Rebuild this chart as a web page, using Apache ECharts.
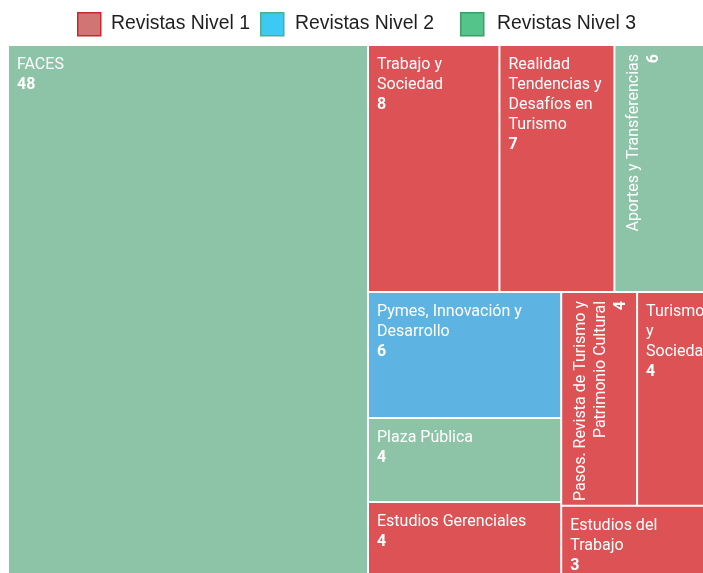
<!DOCTYPE html>
<html>
<head>
<meta charset="utf-8">
<script src="https://cdn.jsdelivr.net/npm/echarts@6/dist/echarts.min.js"></script>
<style>
html,body{margin:0;padding:0;background:#fff;overflow:hidden}
#c{width:703px;height:573px}
</style>
</head>
<body>
<div id="c"></div>
<script>
// ---- data ----
const legendNames = ['Revistas Nivel 1', 'Revistas Nivel 2', 'Revistas Nivel 3'];
const journals = [
  'FACES',
  'Trabajo y Sociedad',
  'Realidad Tendencias y Desafíos en Turismo',
  'Aportes y Transferencias',
  'Pymes, Innovación y Desarrollo',
  'Plaza Pública',
  'Estudios Gerenciales',
  'Pasos. Revista de Turismo y Patrimonio Cultural',
  'Turismo y Sociedad',
  'Estudios del Trabajo'
];
const counts = [48, 8, 7, 6, 6, 4, 4, 4, 4, 3];
const journalLevel = [3, 1, 1, 3, 2, 3, 1, 1, 1, 1];
// label text as wrapped in the reference
const labelText = [
  'FACES',
  'Trabajo y\nSociedad',
  'Realidad\nTendencias y\nDesafíos en\nTurismo',
  'Aportes y Transferencias',
  'Pymes, Innovación y\nDesarrollo',
  'Plaza Pública',
  'Estudios Gerenciales',
  'Pasos. Revista de Turismo y\nPatrimonio Cultural',
  'Turismo\ny\nSociedad',
  'Estudios del\nTrabajo'
];

// ---- styles ----
const cellColors = {1: '#dc5255', 2: '#5db4e3', 3: '#8dc3a7'};
const legendFill = ['#d17474', '#3ccaf5', '#55c48b'];
const legendStroke = ['#c8282d', '#52ad8a', '#3c9e69'];
const verticalLabels = ['Aportes y Transferencias', 'Pasos. Revista de Turismo y Patrimonio Cultural'];
const legendBoxX = [77, 260, 460];
const legendTextX = [111, 295, 497];

const chart = echarts.init(document.getElementById('c'), null, {renderer: 'canvas'});

const data = journals.map((name, i) => {
  const item = {
    name: name,
    value: counts[i],
    itemStyle: {color: cellColors[journalLevel[i]]}
  };
  if (verticalLabels.indexOf(name) >= 0) {
    item.label = {rotate: 90, align: 'right'};
  }
  return item;
});

const graphic = [];
legendNames.forEach((n, i) => {
  graphic.push({
    type: 'rect',
    left: legendBoxX[i], top: 12,
    shape: {width: 23, height: 23},
    style: {fill: legendFill[i], stroke: legendStroke[i], lineWidth: 1.5},
    silent: true
  });
  graphic.push({
    type: 'text',
    x: legendTextX[i], y: 24,
    style: {
      text: n,
      font: '19.4px "Liberation Sans", Arial, sans-serif',
      fill: '#1e1e1e',
      verticalAlign: 'middle'
    },
    silent: true
  });
});

chart.setOption({
  animation: false,
  graphic: graphic,
  series: [{
    type: 'treemap',
    left: 9, top: 46, width: 703, height: 539,
    roam: false,
    nodeClick: false,
    sort: false,
    breadcrumb: {show: false},
    squareRatio: 0.5 * (1 + Math.sqrt(5)),
    itemStyle: {borderWidth: 0, gapWidth: 2, borderColor: '#ffffff'},
    emphasis: {disabled: true},
    label: {
      show: true,
      position: 'insideTopLeft',
      distance: 0,
      padding: [9, 8, 0, 8],
      overflow: 'none',
      color: '#ffffff',
      fontFamily: 'Roboto',
      fontSize: 16,
      lineHeight: 20,
      formatter: function (p) {
        const idx = journals.indexOf(p.name);
        const t = idx >= 0 ? labelText[idx] : p.name;
        return '{n|' + t + '}\n{v|' + p.value + '}';
      },
      rich: {
        n: {fontFamily: 'Roboto', fontSize: 16, lineHeight: 20, color: '#ffffff'},
        v: {fontFamily: 'Roboto', fontSize: 16, lineHeight: 20, fontWeight: 'bold', color: '#ffffff'}
      }
    },
    data: data
  }]
});
</script>
</body>
</html>
